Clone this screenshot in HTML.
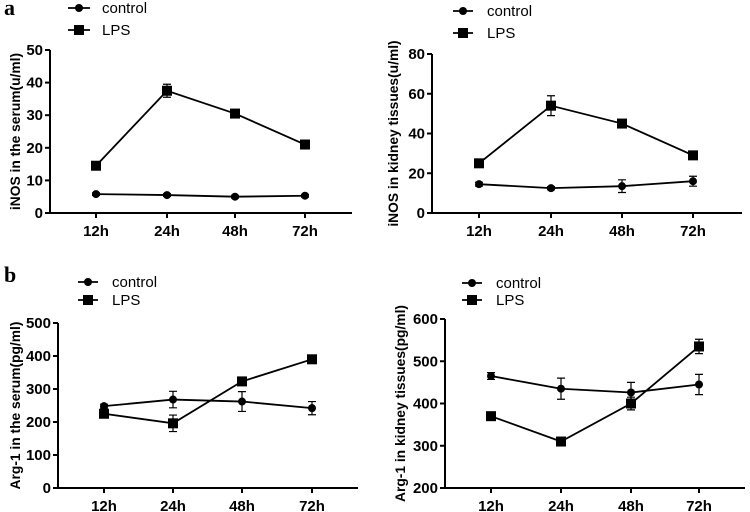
<!DOCTYPE html>
<html><head><meta charset="utf-8"><style>
body{margin:0;background:#fff;}
svg{display:block;font-family:"Liberation Sans",sans-serif;}
.tk{font-size:15px;font-weight:bold;}
.ttl{font-size:13.8px;font-weight:bold;}
.lg{font-size:15px;}
</style></head><body>
<svg id="c" width="750" height="512" viewBox="0 0 750 512">
<text x="4" y="15" font-family="Liberation Serif" font-weight="bold" font-size="22">a</text>
<text x="4" y="282" font-family="Liberation Serif" font-weight="bold" font-size="22">b</text>
</svg>
<script>
const categories=["12h","24h","48h","72h"];
const p1Control=[5.8,5.5,5.0,5.3], p1ControlErr=[0.4,0.4,0.4,0.4];
const p1LPS=[14.5,37.5,30.5,21], p1LPSErr=[0.6,2,0.6,1.3];
const p1Ticks=[0,10,20,30,40,50];
const p2Control=[14.5,12.5,13.5,16], p2ControlErr=[1,0.8,3.2,2.5];
const p2LPS=[25,54,45,29], p2LPSErr=[1,5,1,1];
const p2Ticks=[0,20,40,60,80];
const p3Control=[248,268,262,242], p3ControlErr=[6,25,30,20];
const p3LPS=[225,196,323,390], p3LPSErr=[6,25,6,5];
const p3Ticks=[0,100,200,300,400,500];
const p4Control=[465,435,426,445], p4ControlErr=[8,25,24,24];
const p4LPS=[370,310,400,535], p4LPSErr=[9,4,15,17];
const p4Ticks=[200,300,400,500,600];

const svg=document.getElementById('c');
const NS="http://www.w3.org/2000/svg";
function mk(tag,attrs,parent){const e=document.createElementNS(NS,tag);for(const k in attrs)e.setAttribute(k,attrs[k]);(parent||svg).appendChild(e);return e;}

const panels=[
 {id:"serum-inos",ax:50,xEnd:352,top:50,bot:213,min:0,max:50,cx:[96,167,235,305],ticks:p1Ticks,c:p1Control,ce:p1ControlErr,l:p1LPS,le:p1LPSErr,title:"iNOS in the serum(u/ml)",tx:15,leg:{x1:68,x2:90,tx:102,y1:8,y2:30}},
 {id:"kidney-inos",ax:432,xEnd:742,top:54,bot:213,min:0,max:80,cx:[479,551,622,693],ticks:p2Ticks,c:p2Control,ce:p2ControlErr,l:p2LPS,le:p2LPSErr,title:"iNOS in kidney tissues(u/ml)",tx:393,leg:{x1:453,x2:473,tx:487,y1:11,y2:33}},
 {id:"serum-arg1",ax:58,xEnd:358,top:323,bot:488,min:0,max:500,cx:[104,173,242,312],ticks:p3Ticks,c:p3Control,ce:p3ControlErr,l:p3LPS,le:p3LPSErr,title:"Arg-1 in the serum(pg/ml)",tx:15,leg:{x1:78,x2:98,tx:112,y1:282,y2:300}},
 {id:"kidney-arg1",ax:445,xEnd:745,top:319,bot:488,min:200,max:600,cx:[491,561,631,699],ticks:p4Ticks,c:p4Control,ce:p4ControlErr,l:p4LPS,le:p4LPSErr,title:"Arg-1 in kidney tissues(pg/ml)",tx:400,leg:{x1:462,x2:482,tx:496,y1:283,y2:300}}
];

panels.forEach(p=>{
  const g=mk('g',{});
  
  
  const y=v=>p.bot-(v-p.min)/(p.max-p.min)*(p.bot-p.top);
  const x=i=>p.cx[i];
  const axes=mk('path',{d:`M${p.ax},${p.top}V${p.bot}H${p.xEnd}`,stroke:'#000','stroke-width':2,fill:'none'},g);
  
  
  p.ticks.forEach(t=>{
    mk('line',{x1:p.ax-5,x2:p.ax,y1:y(t),y2:y(t),stroke:'#000','stroke-width':2},g);
    const tx=mk('text',{x:p.ax-7,y:y(t)+5,'text-anchor':'end',class:'tk'},g);
    tx.textContent=t;
    
    
  });
  categories.forEach((c,i)=>{
    mk('line',{x1:x(i),x2:x(i),y1:p.bot,y2:p.bot+5,stroke:'#000','stroke-width':2},g);
    const tx=mk('text',{x:x(i),y:p.bot+23,'text-anchor':'middle',class:'tk'},g);
    tx.textContent=c;
    
    
  });
  const cy=(p.top+p.bot)/2;
  const tt=mk('text',{x:0,y:0,transform:`translate(${p.tx+5},${cy}) rotate(-90)`,'text-anchor':'middle',class:'ttl'},g);
  tt.textContent=p.title;
  
  
  [[p.c,p.ce,'circle','control'],[p.l,p.le,'square','lps']].forEach(([vals,errs,shape,nm])=>{
    const s=mk('g',{},g);
    
    
    mk('polyline',{points:vals.map((v,i)=>x(i)+','+y(v)).join(' '),fill:'none',stroke:'#000','stroke-width':1.8},s);
    vals.forEach((v,i)=>{
      const e=errs[i];
      mk('path',{d:`M${x(i)},${y(v+e)}V${y(v-e)}M${x(i)-4},${y(v+e)}h8M${x(i)-4},${y(v-e)}h8`,stroke:'#000','stroke-width':1.2,fill:'none'},s);
      let m;
      if(shape==='circle')m=mk('circle',{cx:x(i),cy:y(v),r:4,fill:'#000'},s);
      else m=mk('rect',{x:x(i)-5,y:y(v)-5,width:10,height:10,fill:'#000'},s);
      
      
    });
  });
  const L=p.leg;
  [[L.y1,'control','circle'],[L.y2,'LPS','square']].forEach(([ly,lab,shape])=>{
    const lg=mk('g',{},g);
    
    
    mk('line',{x1:L.x1,x2:L.x2,y1:ly,y2:ly,stroke:'#000','stroke-width':1.8},lg);
    const mx=(L.x1+L.x2)/2;
    if(shape==='circle')mk('circle',{cx:mx,cy:ly,r:4,fill:'#000'},lg);
    else mk('rect',{x:mx-5,y:ly-5,width:10,height:10,fill:'#000'},lg);
    const t=mk('text',{x:L.tx,y:ly+5,class:'lg'},lg);
    t.textContent=lab;
  });
});
</script>
</body></html>
